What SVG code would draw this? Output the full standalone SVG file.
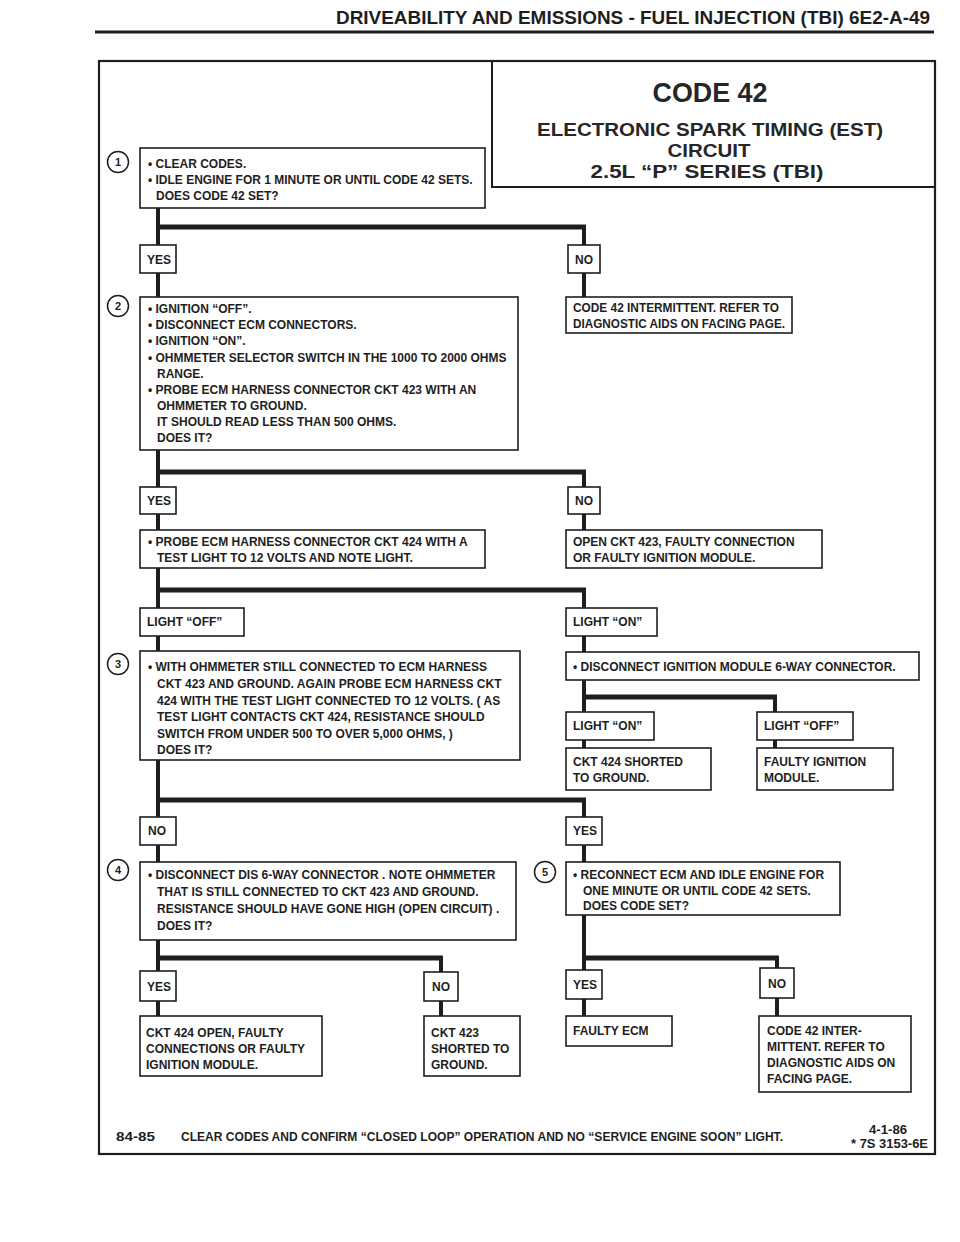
<svg xmlns="http://www.w3.org/2000/svg" width="960" height="1242" viewBox="0 0 960 1242">
<style>
.t{font-family:"Liberation Sans",Arial,sans-serif;font-weight:bold;font-size:12px;fill:#1e1e1e}
.h{font-family:"Liberation Sans",Arial,sans-serif;font-weight:bold;fill:#1e1e1e}
.ttl{font-family:"Liberation Sans",Arial,sans-serif;font-weight:bold;fill:#262626;text-anchor:middle}
.b{fill:#fff;stroke:#1e1e1e;stroke-width:1.6}
.c{fill:none;stroke:#1e1e1e;stroke-width:4}
.bar{fill:none;stroke:#1e1e1e;stroke-width:5}
.n{fill:#fff;stroke:#1e1e1e;stroke-width:1.5}
.m{font-family:"Liberation Sans",Arial,sans-serif;font-weight:bold;font-size:11px;fill:#1e1e1e;text-anchor:middle}
</style>
<rect width="960" height="1242" fill="#fff"/>
<text class="h" x="336" y="24" font-size="18" textLength="594" lengthAdjust="spacingAndGlyphs">DRIVEABILITY AND EMISSIONS - FUEL INJECTION (TBI)  6E2-A-49</text>
<path d="M95 32 H934" stroke="#1e1e1e" stroke-width="3"/>
<rect x="99" y="61" width="836" height="1093" fill="none" stroke="#1e1e1e" stroke-width="2.2"/>
<g id="title">
<path d="M492 61 V187 H935" fill="none" stroke="#1e1e1e" stroke-width="2"/>
<text class="ttl" x="710" y="102" font-size="27" textLength="115" lengthAdjust="spacingAndGlyphs">CODE 42</text>
<text class="ttl" x="710" y="136" font-size="18.5" textLength="346" lengthAdjust="spacingAndGlyphs">ELECTRONIC SPARK TIMING (EST)</text>
<text class="ttl" x="709" y="157" font-size="18.5" textLength="83" lengthAdjust="spacingAndGlyphs">CIRCUIT</text>
<text class="ttl" x="707" y="178" font-size="18.5" textLength="233" lengthAdjust="spacingAndGlyphs">2.5L  “P”  SERIES  (TBI)</text>
</g>
<g id="connectors">
<path class="c" d="M158 208 V297 M584 227 V297"/>
<path class="bar" d="M156 227 H586"/>
<path class="c" d="M158 450 V530 M584 472 V530"/>
<path class="bar" d="M156 472 H586"/>
<path class="c" d="M158 568 V651 M584 590 V652"/>
<path class="bar" d="M156 590 H586"/>
<path class="c" d="M584 680 V748 M775 697 V748"/>
<path class="bar" d="M582 697 H777"/>
<path class="c" d="M158 760 V862 M584 800 V862"/>
<path class="bar" d="M156 800 H586"/>
<path class="c" d="M158 940 V1016 M441 958 V1016"/>
<path class="bar" d="M156 958 H443"/>
<path class="c" d="M584 915 V1016 M777 958 V1016"/>
<path class="bar" d="M582 958 H779"/>
</g>
<g id="step1">
<circle class="n" cx="118" cy="162" r="10.5"/><text class="m" x="118" y="166">1</text>
<rect class="b" x="140" y="148" width="345" height="60"/>
<text class="t" x="148" y="168">• CLEAR CODES.</text>
<text class="t" x="148" y="184">• IDLE ENGINE FOR 1 MINUTE OR UNTIL CODE 42 SETS.</text>
<text class="t" x="156" y="200">DOES CODE 42 SET?</text>
</g>
<g id="yes1"><rect class="b" x="140" y="245" width="36" height="28"/><text class="t" x="147" y="264">YES</text></g>
<g id="no1"><rect class="b" x="568" y="245" width="32" height="28"/><text class="t" x="575" y="264">NO</text></g>
<g id="step2">
<circle class="n" cx="118" cy="306" r="10.5"/><text class="m" x="118" y="310">2</text>
<rect class="b" x="140" y="297" width="378" height="153"/>
<text class="t" x="148" y="313">• IGNITION “OFF”.</text>
<text class="t" x="148" y="329">• DISCONNECT ECM CONNECTORS.</text>
<text class="t" x="148" y="345">• IGNITION “ON”.</text>
<text class="t" x="148" y="362">• OHMMETER SELECTOR SWITCH IN THE 1000 TO 2000 OHMS</text>
<text class="t" x="157" y="378">RANGE.</text>
<text class="t" x="148" y="394">• PROBE ECM HARNESS CONNECTOR CKT 423  WITH AN</text>
<text class="t" x="157" y="410">OHMMETER TO GROUND.</text>
<text class="t" x="157" y="426">IT SHOULD READ LESS THAN 500 OHMS.</text>
<text class="t" x="157" y="442">DOES IT?</text>
</g>
<g id="res1"><rect class="b" x="566" y="297" width="226" height="36"/>
<text class="t" x="573" y="312" textLength="206" lengthAdjust="spacingAndGlyphs">CODE 42 INTERMITTENT.  REFER TO</text>
<text class="t" x="573" y="328" textLength="212" lengthAdjust="spacingAndGlyphs">DIAGNOSTIC AIDS ON FACING PAGE.</text></g>
<g id="yes2"><rect class="b" x="140" y="487" width="36" height="27"/><text class="t" x="147" y="505">YES</text></g>
<g id="no2"><rect class="b" x="568" y="487" width="32" height="27"/><text class="t" x="575" y="505">NO</text></g>
<g id="probe424"><rect class="b" x="140" y="530" width="345" height="38"/>
<text class="t" x="148" y="546">• PROBE ECM HARNESS CONNECTOR CKT 424 WITH A</text>
<text class="t" x="157" y="562">TEST LIGHT TO 12  VOLTS AND NOTE LIGHT.</text></g>
<g id="res2"><rect class="b" x="566" y="530" width="256" height="38"/>
<text class="t" x="573" y="546">OPEN CKT 423, FAULTY CONNECTION</text>
<text class="t" x="573" y="562">OR FAULTY IGNITION MODULE.</text></g>
<g id="lightoff1"><rect class="b" x="140" y="608" width="104" height="28"/><text class="t" x="147" y="626">LIGHT “OFF”</text></g>
<g id="lighton1"><rect class="b" x="566" y="608" width="91" height="28"/><text class="t" x="573" y="626">LIGHT “ON”</text></g>
<g id="step3">
<circle class="n" cx="118" cy="664" r="10.5"/><text class="m" x="118" y="668">3</text>
<rect class="b" x="140" y="651" width="380" height="109"/>
<text class="t" x="148" y="671">• WITH OHMMETER STILL CONNECTED TO ECM HARNESS</text>
<text class="t" x="157" y="688">CKT 423 AND GROUND. AGAIN PROBE ECM HARNESS CKT</text>
<text class="t" x="157" y="705">424 WITH THE TEST LIGHT CONNECTED TO 12 VOLTS. ( AS</text>
<text class="t" x="157" y="721">TEST LIGHT CONTACTS CKT 424, RESISTANCE SHOULD</text>
<text class="t" x="157" y="738">SWITCH FROM UNDER 500 TO OVER 5,000 OHMS, )</text>
<text class="t" x="157" y="754">DOES IT?</text>
</g>
<g id="disconnect6way"><rect class="b" x="566" y="652" width="353" height="28"/>
<text class="t" x="573" y="671">• DISCONNECT IGNITION MODULE 6-WAY CONNECTOR.</text></g>
<g id="lighton2"><rect class="b" x="566" y="712" width="88" height="28"/><text class="t" x="573" y="730">LIGHT “ON”</text></g>
<g id="lightoff2"><rect class="b" x="757" y="712" width="96" height="28"/><text class="t" x="764" y="730">LIGHT “OFF”</text></g>
<g id="res3"><rect class="b" x="566" y="748" width="145" height="42"/>
<text class="t" x="573" y="766">CKT 424  SHORTED</text>
<text class="t" x="573" y="782">TO GROUND.</text></g>
<g id="res4"><rect class="b" x="757" y="748" width="136" height="42"/>
<text class="t" x="764" y="766">FAULTY IGNITION</text>
<text class="t" x="764" y="782">MODULE.</text></g>
<g id="no3"><rect class="b" x="140" y="817" width="36" height="28"/><text class="t" x="148" y="835">NO</text></g>
<g id="yes3"><rect class="b" x="566" y="817" width="36" height="28"/><text class="t" x="573" y="835">YES</text></g>
<g id="step4">
<circle class="n" cx="118" cy="870" r="10.5"/><text class="m" x="118" y="874">4</text>
<rect class="b" x="140" y="862" width="376" height="78"/>
<text class="t" x="148" y="879">• DISCONNECT DIS 6-WAY CONNECTOR . NOTE OHMMETER</text>
<text class="t" x="157" y="896">THAT IS STILL CONNECTED TO CKT 423  AND GROUND.</text>
<text class="t" x="157" y="913">RESISTANCE SHOULD HAVE GONE HIGH (OPEN CIRCUIT) .</text>
<text class="t" x="157" y="930">DOES IT?</text>
</g>
<g id="step5">
<circle class="n" cx="545" cy="872" r="10.5"/><text class="m" x="545" y="876">5</text>
<rect class="b" x="566" y="862" width="274" height="53"/>
<text class="t" x="573" y="879">• RECONNECT ECM AND IDLE ENGINE FOR</text>
<text class="t" x="583" y="895">ONE MINUTE OR UNTIL CODE 42 SETS.</text>
<text class="t" x="583" y="910">DOES CODE SET?</text>
</g>
<g id="yes4"><rect class="b" x="140" y="971" width="36" height="30"/><text class="t" x="147" y="991">YES</text></g>
<g id="no4"><rect class="b" x="424" y="972" width="34" height="29"/><text class="t" x="432" y="991">NO</text></g>
<g id="yes5"><rect class="b" x="566" y="970" width="36" height="29"/><text class="t" x="573" y="989">YES</text></g>
<g id="no5"><rect class="b" x="760" y="968" width="34" height="30"/><text class="t" x="768" y="988">NO</text></g>
<g id="res5"><rect class="b" x="140" y="1016" width="182" height="60"/>
<text class="t" x="146" y="1037">CKT 424 OPEN, FAULTY</text>
<text class="t" x="146" y="1053">CONNECTIONS OR FAULTY</text>
<text class="t" x="146" y="1069">IGNITION MODULE.</text></g>
<g id="res6"><rect class="b" x="424" y="1016" width="96" height="60"/>
<text class="t" x="431" y="1037">CKT 423</text>
<text class="t" x="431" y="1053">SHORTED TO</text>
<text class="t" x="431" y="1069">GROUND.</text></g>
<g id="res7"><rect class="b" x="566" y="1016" width="106" height="30"/>
<text class="t" x="573" y="1035">FAULTY ECM</text></g>
<g id="res8"><rect class="b" x="759" y="1016" width="152" height="76"/>
<text class="t" x="767" y="1035">CODE 42 INTER-</text>
<text class="t" x="767" y="1051">MITTENT.  REFER TO</text>
<text class="t" x="767" y="1067">DIAGNOSTIC AIDS ON</text>
<text class="t" x="767" y="1083">FACING PAGE.</text></g>
<g id="footer">
<text class="t" x="116" y="1141" textLength="39" lengthAdjust="spacingAndGlyphs">84-85</text>
<text class="t" x="181" y="1141" textLength="602" lengthAdjust="spacingAndGlyphs">CLEAR CODES AND CONFIRM “CLOSED LOOP” OPERATION AND NO “SERVICE ENGINE SOON” LIGHT.</text>
<text class="t" x="869" y="1134" textLength="38" lengthAdjust="spacingAndGlyphs">4-1-86</text>
<text class="t" x="851" y="1148" textLength="77" lengthAdjust="spacingAndGlyphs">* 7S 3153-6E</text>
</g>
</svg>
